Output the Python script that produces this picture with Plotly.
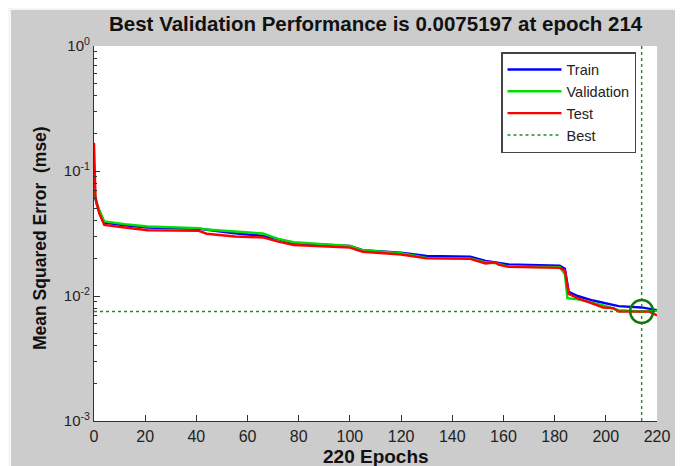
import plotly.graph_objects as go

# ---- data ----
train_epochs = [0, 1, 2, 4, 12, 21, 41, 55, 66, 72, 78, 100, 105, 120, 130, 147, 153, 162, 182, 184, 185.5, 189, 195, 199, 205, 214, 220]
train_mse = [0.068, 0.055, 0.048, 0.0386, 0.0367, 0.0353, 0.0345, 0.0318, 0.0303, 0.0285, 0.0264, 0.0252, 0.0233, 0.0222, 0.0209, 0.0206, 0.0191, 0.0179, 0.0175, 0.0165, 0.0108, 0.0100, 0.0092, 0.0088, 0.0083, 0.0081, 0.0077]

val_epochs = [0, 1, 2, 4, 12, 21, 41, 44, 55, 66, 72, 78, 100, 105, 120, 130, 147, 153, 157, 162, 182, 184, 185, 189, 195, 199, 205, 214, 220]
val_mse = [0.070, 0.056, 0.049, 0.0395, 0.0376, 0.036, 0.0349, 0.034, 0.0328, 0.0316, 0.0286, 0.0269, 0.0252, 0.0232, 0.0220, 0.0202, 0.0200, 0.0186, 0.0183, 0.0172, 0.0170, 0.0150, 0.0096, 0.0094, 0.0088, 0.0084, 0.0077, 0.0075197, 0.0076]

test_epochs = [0, 0.6, 2, 4, 12, 21, 41, 44, 55, 66, 72, 78, 100, 105, 120, 130, 147, 153, 157, 158, 162, 182, 184, 185.5, 189, 195, 199, 203, 205, 217, 220]
test_mse = [0.168, 0.061, 0.046, 0.037, 0.0353, 0.0336, 0.0332, 0.0315, 0.0299, 0.0294, 0.0272, 0.0256, 0.0244, 0.0226, 0.0215, 0.0200, 0.0198, 0.0182, 0.0186, 0.0178, 0.0171, 0.0168, 0.0160, 0.0104, 0.0096, 0.0087, 0.0081, 0.0080, 0.0075, 0.0075, 0.0070]

best_epoch = 214
best_perf = 0.0075197
n_epochs = 220
y_limits = [1e-3, 1e0]

x_ticks = [0, 20, 40, 60, 80, 100, 120, 140, 160, 180, 200, 220]
y_ticks = [1e-3, 1e-2, 1e-1, 1e0]
y_ticklabels = ["10<sup>-3</sup>", "10<sup>-2</sup>", "10<sup>-1</sup>", "10<sup>0</sup>"]
y_minor = [m * 10 ** e for e in (-3, -2, -1) for m in range(2, 10)]

title_text = "Best Validation Performance is 0.0075197 at epoch 214"
x_title = "220 Epochs"
y_title = "Mean Squared Error  (mse)"

# ---- figure (page has an 8px body margin, so the figure starts at page (8, 8)) ----
OFF = 8
W, H = 683 - OFF, 466 - OFF
L, R, T, B = 94 - OFF, 26, 46 - OFF, 45
pw, ph = W - L - R, H - T - B

def px_x(p):  # page x -> paper x
    return (p - OFF - L) / pw

def px_y(p):  # page y -> paper y
    return (H - B - (p - OFF)) / ph

font_fam = "Liberation Sans, Arial, sans-serif"
best_color = "#1f8f1f"

fig = go.Figure()
fig.add_trace(go.Scatter(x=train_epochs, y=train_mse, mode="lines", name="Train",
                         line=dict(color="#0000ff", width=2.4)))
fig.add_trace(go.Scatter(x=val_epochs, y=val_mse, mode="lines", name="Validation",
                         line=dict(color="#00dd00", width=2.4)))
fig.add_trace(go.Scatter(x=test_epochs, y=test_mse, mode="lines", name="Test",
                         line=dict(color="#ff0000", width=2.4)))
fig.add_trace(go.Scatter(x=[best_epoch, best_epoch, None, 0, n_epochs],
                         y=[y_limits[0], y_limits[1], None, best_perf, best_perf],
                         mode="lines", name="Best",
                         line=dict(color=best_color, width=1.4, dash="3px,3px")))
fig.add_trace(go.Scatter(x=[best_epoch], y=[best_perf], mode="markers", showlegend=False,
                         marker=dict(symbol="circle-open", size=23,
                                     line=dict(color="#0d7a0d", width=2.4), color="#0d7a0d")))

fig.update_layout(
    width=W, height=H,
    margin=dict(l=L, r=R, t=T, b=B),
    paper_bgcolor="#cccccc",
    plot_bgcolor="white",
    font=dict(family=font_fam, color="#222222", size=15),
    showlegend=True,
    legend=dict(x=px_x(501), y=px_y(52), xanchor="left", yanchor="top",
                bgcolor="white", bordercolor="#444444", borderwidth=1.5,
                font=dict(size=14.5, color="#222222"),
                tracegroupgap=0, itemwidth=54, entrywidth=125),
    xaxis=dict(range=[0, n_epochs], tickvals=x_ticks, ticks="inside", ticklen=6,
               tickcolor="#333333", showline=True, linecolor="#333333", linewidth=1.2,
               showgrid=False, zeroline=False, ticklabelstandoff=1,
               tickfont=dict(size=16, color="#222222")),
    yaxis=dict(type="log", range=[-3, 0], tickvals=y_ticks, ticktext=y_ticklabels,
               ticks="inside", ticklen=6, tickcolor="#333333", showline=True,
               linecolor="#333333", linewidth=1.2, showgrid=False, zeroline=False,
               tickfont=dict(size=15, color="#222222"),
               minor=dict(tickmode="array", tickvals=y_minor, ticks="inside",
                          ticklen=3, tickcolor="#333333", showgrid=False)),
)

# white window strips (top and left) beyond the page margin
fig.add_shape(type="rect", xref="paper", yref="paper",
              x0=px_x(0), x1=px_x(W + 20), y0=px_y(10), y1=px_y(0),
              fillcolor="#f6f6f6", line=dict(width=0), layer="above")
fig.add_shape(type="rect", xref="paper", yref="paper",
              x0=px_x(0), x1=px_x(11), y0=px_y(H + 20), y1=px_y(0),
              fillcolor="#f6f6f6", line=dict(width=0), layer="above")

# title and axis titles
fig.add_annotation(text=f"<b>{title_text}</b>", xref="paper", yref="paper",
                   x=0.5, y=px_y(23), xanchor="center", yanchor="middle",
                   showarrow=False, font=dict(size=20.5, color="#111111"))
fig.add_annotation(text=f"<b>{x_title}</b>", xref="paper", yref="paper",
                   x=0.5, y=px_y(456), xanchor="center", yanchor="middle",
                   showarrow=False, font=dict(size=19, color="#111111"))
fig.add_annotation(text=f"<b>{y_title}</b>", xref="paper", yref="paper",
                   x=px_x(40), y=px_y(238), xanchor="center", yanchor="middle",
                   textangle=-90, showarrow=False, font=dict(size=17.5, color="#111111"))

fig.write_html("out.html")
